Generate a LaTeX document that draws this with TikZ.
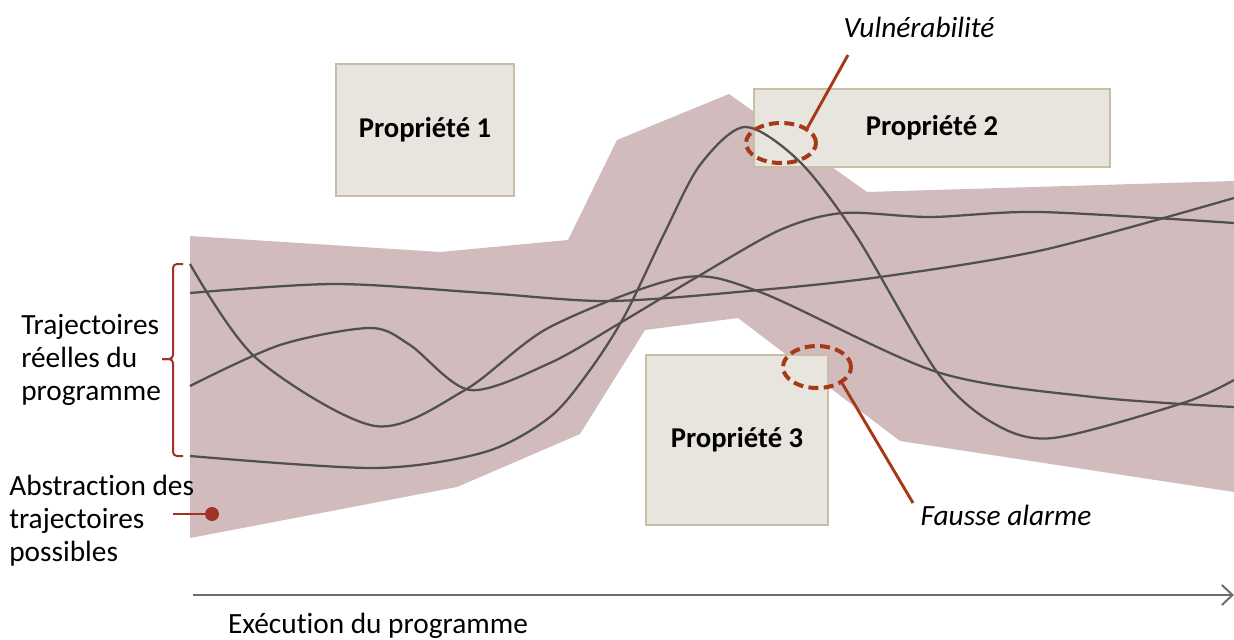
\documentclass[tikz,border=0pt]{standalone}
\usepackage{fontspec}
\setmainfont{Carlito}[Ligatures=NoCommon]
\usepackage{xcolor}
\usepackage{tikz}
\usetikzlibrary{shapes.geometric, arrows.meta}
\definecolor{abstr}{RGB}{209,187,189}
\definecolor{boxfill}{RGB}{232,228,222}
\definecolor{boxline}{RGB}{200,190,166}
\definecolor{trajgray}{RGB}{80,80,80}
\definecolor{rust}{RGB}{166,58,24}
\definecolor{brick}{RGB}{160,50,40}
\definecolor{axisgray}{RGB}{110,110,110}

\begin{document}
\begin{tikzpicture}[
  x=0.75pt, y=-0.75pt,
  font=\fontsize{22}{24.75}\selectfont,
  propbox/.style={draw=boxline, fill=boxfill, line width=1.2pt, inner sep=0pt,
                  font=\fontsize{21.5}{24}\selectfont\bfseries},
  trajline/.style={draw=trajgray, line width=1.7pt},
  alarm/.style={ellipse, draw=rust, line width=3pt, dash pattern=on 7.5pt off 4pt,
                inner sep=0pt},
  callout/.style={draw=rust, line width=2.2pt},
  bracket/.style={draw=brick, line width=1.5pt, rounded corners=3pt},
  lbl/.style={align=left, inner sep=0pt},
  axisarr/.style={-{Straight Barb[length=8pt, width=15pt]}, line width=1.5pt, draw=axisgray},
]
\useasboundingbox (0,0) rectangle (1234,639);

% Abstraction of the possible trajectories
\fill[abstr] (190,236) -- (440,252) -- (568,240) -- (617,140) -- (729,94) -- (867,192)
  -- (1234,181) -- (1234,492) -- (900,441) -- (738,318) -- (645,330) -- (580,434)
  -- (457,487) -- (190,538) -- cycle;

% Properties
\node[propbox, minimum width=133.5pt, minimum height=99pt]  (p1) at (425,130) {Propriété 1};
\node[propbox, minimum width=267pt,   minimum height=58.5pt] (p2) at (932,128) {Propriété 2};
\node[propbox, minimum width=136.5pt, minimum height=127.5pt] (p3) at (737,440) {Propriété 3};

% Real trajectories
\draw[trajline] plot[smooth] coordinates {(190,264) (256,358) (375,426) (465,390) (550,327)
  (680,278) (760,292) (937,372) (1093,397) (1234,407)};
\draw[trajline] plot[smooth] coordinates {(190,386) (280,345) (370,328) (410,345) (470,390)
  (550,363) (620,323) (697,277) (780,230) (843,213) (930,217) (1040,212) (1234,223)};
\draw[trajline] plot[smooth] coordinates {(190,293) (335,284) (485,293) (610,301) (760,290)
  (880,277) (1043,250) (1234,198)};
\draw[trajline] plot[smooth] coordinates {(190,456) (375,468) (485,452) (550,417) (590,370)
  (625,315) (665,232) (700,165) (745,127) (800,162) (857,237) (937,372)
  (993,423) (1053,438) (1183,403) (1234,380)};

% Alarms
\node[alarm, minimum width=52.5pt, minimum height=30pt] (vuln)   at (781,143) {};
\node[alarm, minimum width=51pt,   minimum height=31.5pt] (fausse) at (817,367) {};

\node (vlbl) at (919,27)  {\itshape Vulnérabilité};
\node (flbl) at (1006,515) {\itshape Fausse alarme};
\coordinate (vtip) at (848,55);
\coordinate (ftip) at (913,503);
\draw[callout] (vtip) -- (vuln.30);
\draw[callout] (ftip) -- (fausse.-33);

% Left labels
\draw[bracket] (183,264) -- (173,264) -- (173,359) -- (162,359);
\draw[bracket] (162,359) -- (173,359) -- (173,456) -- (183,456);
\node[lbl, anchor=west] (reel) at (21,360) {Trajectoires\\réelles du\\programme};

\node[lbl, anchor=west] (abs) at (9,521) {Abstraction des\\trajectoires\\possibles};
\node[circle, fill=brick, inner sep=0pt, minimum size=10.5pt] (dot) at (212,514) {};
\coordinate (abslink) at (173,514);
\draw[brick, line width=1.5pt] (abslink) -- (dot);

% Execution axis
\coordinate (t0) at (193,595);
\coordinate (t1) at (1234,595);
\draw[axisarr] (t0) -- (t1);
\node (exec) at (378,626) {Exécution du programme};

\end{tikzpicture}
\end{document}
